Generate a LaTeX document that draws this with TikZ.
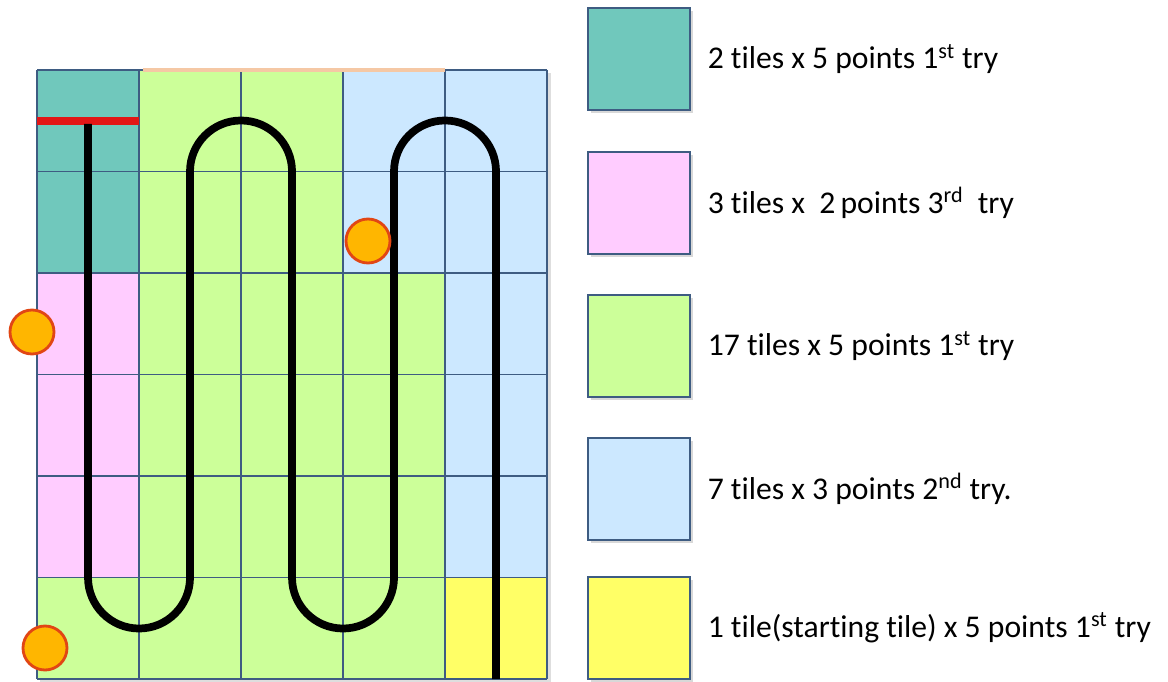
\documentclass[tikz,border=0pt]{standalone}
\usepackage{fontspec}
\setmainfont{Carlito}[Ligatures=NoCommon]
\usepackage{tikz}
\usetikzlibrary{positioning,shadows}
\definecolor{tealtile}{RGB}{112, 200, 188}
\definecolor{pinktile}{RGB}{255, 204, 255}
\definecolor{greentile}{RGB}{204, 255, 153}
\definecolor{bluetile}{RGB}{204, 232, 255}
\definecolor{yellowtile}{RGB}{255, 255, 102}
\definecolor{gridblue}{RGB}{62, 92, 130}
\definecolor{peachline}{RGB}{245, 200, 165}
\definecolor{coinfill}{RGB}{255, 182, 0}
\definecolor{coinedge}{RGB}{225, 70, 20}
\definecolor{redbar}{RGB}{226, 22, 22}

\begin{document}
\begin{tikzpicture}[x=0.025cm, y=-0.025cm,
    every node/.style={font=\fontsize{22.5}{27}\selectfont},
    key/.style={draw=gridblue, line width=1.1pt, minimum size=2.55cm, inner sep=0pt,
        drop shadow={opacity=0.3, shadow xshift=0.7mm, shadow yshift=-0.7mm}},
    coin/.style={circle, fill=coinfill, draw=coinedge, line width=2pt, minimum size=1.1cm, inner sep=0pt},
    route/.style={line width=5.5pt, black}]
    \useasboundingbox[fill=white] (0,0) rectangle (1168,682);

    % field tiles
    \fill[black!25, opacity=0.5] (40,73) rectangle (551,683);
    \fill[tealtile] (37,70) rectangle (139,273);
    \fill[pinktile] (37,273) rectangle (139,577.5);
    \fill[greentile] (37,577.5) rectangle (139,679);
    \fill[greentile] (139,70) rectangle (343,679);
    \fill[greentile] (343,273) rectangle (445,679);
    \fill[bluetile] (343,70) rectangle (445,273);
    \fill[bluetile] (445,70) rectangle (547,577.5);
    \fill[yellowtile] (445,577.5) rectangle (547,679);
    \foreach \gx in {37,139,241,343,445,547}
        \draw[gridblue, line width=0.9pt] (\gx,70) -- (\gx,679);
    \foreach \gy in {70,171.5,273,374.5,476,577.5,679}
        \draw[gridblue, line width=0.9pt] (37,\gy) -- (547,\gy);
    \draw[peachline, line width=3.2pt] (143,70) -- (445,70);

    % line to follow
    \draw[redbar, line width=5.3pt] (37,121) -- (139,121);
    \draw[route] (88,124) -- (88,577.5)
        arc[start angle=180, end angle=360, radius=1.275cm] -- (190,171.5)
        arc[start angle=180, end angle=0, radius=1.275cm] -- (292,577.5)
        arc[start angle=180, end angle=360, radius=1.275cm] -- (394,171.5)
        arc[start angle=180, end angle=0, radius=1.275cm] -- (496,679);

    \node[coin] (coinA) at (368,241) {};
    \node[coin] (coinB) at (32,332) {};
    \node[coin] (coinC) at (45,648) {};

    % legend
    \node[key, fill=tealtile] (keyteal) at (639,59) {};
    \node[right=0.3cm of keyteal] (txtteal) {2 tiles x 5 points 1\textsuperscript{st} try};
    \node[key, fill=pinktile] (keypink) at (639,203) {};
    \node[right=0.3cm of keypink] (txtpink) {3 tiles x\ \ 2\,points 3\textsuperscript{rd}\ \ try};
    \node[key, fill=greentile] (keygreen) at (639,346) {};
    \node[right=0.3cm of keygreen] (txtgreen) {17 tiles x 5 points 1\textsuperscript{st} try};
    \node[key, fill=bluetile] (keyblue) at (639,489) {};
    \node[right=0.3cm of keyblue] (txtblue) {7 tiles x 3 points 2\textsuperscript{nd} try.};
    \node[key, fill=yellowtile] (keyyellow) at (639,628) {};
    \node[right=0.3cm of keyyellow] (txtyellow) {1 tile(starting tile) x 5 points 1\textsuperscript{st} try};
\end{tikzpicture}
\end{document}
